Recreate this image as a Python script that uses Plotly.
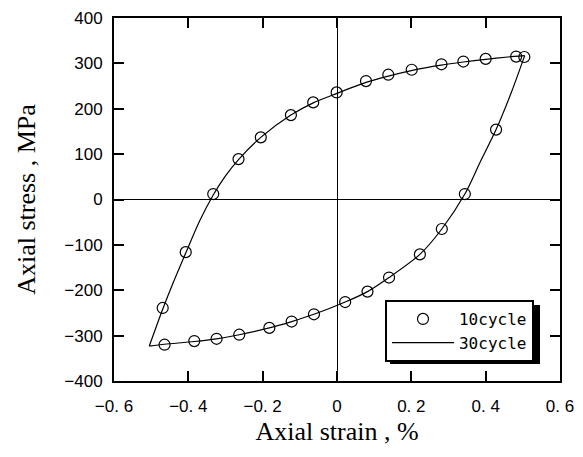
import plotly.graph_objects as go

# 10cycle measured points (open circles), in loop order
cycle10_strain = [-0.469, -0.407, -0.333, -0.265, -0.205, -0.124, -0.064, -0.001, 0.078, 0.138,
                  0.201, 0.281, 0.340, 0.400, 0.482, 0.504,
                  0.428, 0.344, 0.282, 0.223, 0.140, 0.082, 0.022, -0.062, -0.122, -0.182,
                  -0.263, -0.324, -0.384, -0.464]
cycle10_stress = [-239, -116, 12, 89, 137, 186, 214, 236, 261, 275,
                  286, 298, 304, 310, 315, 314,
                  154, 12, -65, -121, -172, -203, -226, -253, -269, -283,
                  -298, -307, -312, -320]

# 30cycle curve: loading (rising) branch
cycle30_up_strain = [-0.505, -0.469, -0.44, -0.407, -0.37, -0.333, -0.30, -0.265, -0.205, -0.124,
                     -0.064, 0.0, 0.078, 0.138, 0.20, 0.28, 0.34, 0.40, 0.46, 0.505]
cycle30_up_stress = [-323, -242, -182, -118, -48, 10, 52, 88, 137, 186,
                     213, 234, 258, 272, 284, 296, 303, 309, 314, 317]
# 30cycle curve: unloading (descending) branch
cycle30_down_strain = [0.505, 0.47, 0.428, 0.385, 0.344, 0.282, 0.223, 0.14, 0.082, 0.022,
                       -0.062, -0.122, -0.182, -0.263, -0.324, -0.384, -0.464, -0.505]
cycle30_down_stress = [317, 238, 154, 82, 12, -65, -121, -172, -203, -226,
                       -253, -269, -283, -298, -307, -313, -319, -323]

x_tickvals = [-0.6, -0.4, -0.2, 0, 0.2, 0.4, 0.6]
x_ticktext = ["−0. 6", "−0. 4", "−0. 2", "0", "0. 2", "0. 4", "0. 6"]
y_tickvals = [-400, -300, -200, -100, 0, 100, 200, 300, 400]
y_ticktext = ["−400", "−300", "−200", "−100", "0", "100", "200", "300", "400"]

fig = go.Figure()
fig.add_trace(go.Scatter(
    x=cycle10_strain, y=cycle10_stress, mode="markers", name="10cycle",
    marker=dict(symbol="circle-open", size=11, color="black", line=dict(width=1.2, color="black")),
))
fig.add_trace(go.Scatter(
    x=cycle30_up_strain, y=cycle30_up_stress, mode="lines", name="30cycle",
    legendgroup="c30", line=dict(color="black", width=1.2, shape="spline", smoothing=0.8),
))
fig.add_trace(go.Scatter(
    x=cycle30_down_strain, y=cycle30_down_stress, mode="lines", name="30cycle",
    legendgroup="c30", showlegend=False,
    line=dict(color="black", width=1.2, shape="spline", smoothing=0.8),
))

tickfont = dict(family="Liberation Sans", size=17, color="black")
titlefont = dict(family="Liberation Serif", size=26, color="black")

fig.update_layout(
    width=583, height=457,
    margin=dict(l=106, r=31, t=10, b=84, autoexpand=False),
    paper_bgcolor="white", plot_bgcolor="white",
    showlegend=True,
    legend=dict(
        x=0.6076, y=0.2231, xanchor="left", yanchor="top",
        bgcolor="white", bordercolor="black", borderwidth=2,
        font=dict(family="DejaVu Sans Mono", size=16, color="black"),
        itemwidth=62, tracegroupgap=0,
    ),
    shapes=[dict(
        type="rect", xref="paper", yref="paper",
        x0=0.6188, x1=0.9552, y0=0.0468, y1=0.2094,
        fillcolor="black", line=dict(width=0), layer="above",
    )],
)
fig.update_xaxes(
    range=[-0.6, 0.6], tickvals=x_tickvals, ticktext=x_ticktext, automargin=False,
    ticks="inside", ticklen=10, tickwidth=1.5, tickcolor="black",
    showline=True, linewidth=2, linecolor="black", mirror="ticks",
    showgrid=False, zeroline=True, zerolinecolor="black", zerolinewidth=1,
    tickfont=tickfont, ticklabelstandoff=9, ticklabeloverflow="allow",
    title=dict(text="Axial strain , %", font=titlefont, standoff=6),
)
fig.update_yaxes(
    range=[-400, 400], tickvals=y_tickvals, ticktext=y_ticktext, automargin=False,
    ticks="inside", ticklen=10, tickwidth=1.5, tickcolor="black",
    showline=True, linewidth=2, linecolor="black", mirror="ticks",
    showgrid=False, zeroline=True, zerolinecolor="black", zerolinewidth=1,
    tickfont=tickfont, ticklabelstandoff=6, ticklabeloverflow="allow",
    title=dict(text="Axial stress , MPa", font=titlefont, standoff=21),
)

fig.write_html("out.html")
